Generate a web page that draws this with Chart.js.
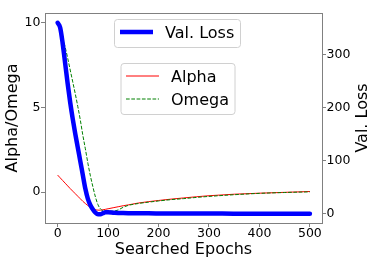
<!DOCTYPE html>
<html>
<head>
<meta charset="utf-8">
<script src="https://cdn.jsdelivr.net/npm/chart.js@4/dist/chart.umd.min.js"></script>
<style>
  body { margin: 0; background: #fff; }
  #wrap { width: 374px; height: 260px; }
</style>
</head>
<body>
<div id="wrap"><canvas id="chart" width="374" height="260"></canvas></div>
<script>

// ================= DATA =================

const epochs = [0, 5, 10, 15, 20, 25, 30, 35, 40, 45, 50, 55, 60, 65, 70, 75, 80, 85, 90, 95,
  100, 110, 120, 130, 140, 160, 180, 200, 225, 250, 275, 300, 350, 400, 450, 500];

const valLoss = [361, 352, 322, 284, 245, 210, 179, 151, 125, 99, 73, 47, 28, 16, 8, 2, -1, -1, 1, 2.5,
  2.5, 2, 1.5, 1.2, 1, 0.8, 0.6, 0.5, 0.4, 0.3, 0.2, 0.2, 0.1, 0.1, 0, 0];

const alpha = [1.0, 0.84, 0.68, 0.52, 0.36, 0.2, 0.05, -0.1, -0.25, -0.4, -0.55, -0.68, -0.8, -0.91, -0.99, -1.04, -1.07, -1.07, -1.05, -1.02,
  -0.99, -0.93, -0.87, -0.81, -0.76, -0.65, -0.57, -0.5, -0.42, -0.35, -0.28, -0.22, -0.13, -0.07, -0.02, 0.03];

const omega = [10, 9.65, 9.15, 8.55, 7.9, 7.2, 6.5, 5.8, 5.05, 4.25, 3.35, 2.55, 1.7, 0.95, 0.3, -0.3, -0.75, -1.0, -1.1, -1.12,
  -1.13, -1.13, -1.06, -0.9, -0.79, -0.68, -0.6, -0.53, -0.45, -0.39, -0.32, -0.26, -0.16, -0.08, -0.03, 0.01];

const xTicks = [0, 100, 200, 300, 400, 500];
const leftTicks = [0, 5, 10];
const rightTicks = [0, 100, 200, 300];

const FONT = "DejaVu Sans";
const SPINE = "#808080";

function points(values) {
  return epochs.map((e, i) => ({ x: e, y: values[i] }));
}


// ================= OVERLAY (top spine, right title, legends) =================

function roundBox(ctx, x, y, w, h, r) {
  ctx.beginPath();
  ctx.moveTo(x + r, y);
  ctx.lineTo(x + w - r, y);
  ctx.arcTo(x + w, y, x + w, y + r, r);
  ctx.lineTo(x + w, y + h - r);
  ctx.arcTo(x + w, y + h, x + w - r, y + h, r);
  ctx.lineTo(x + r, y + h);
  ctx.arcTo(x, y + h, x, y + h - r, r);
  ctx.lineTo(x, y + r);
  ctx.arcTo(x, y, x + r, y, r);
  ctx.closePath();
  ctx.fillStyle = "rgba(255,255,255,0.8)";
  ctx.fill();
  ctx.strokeStyle = "#d0d0d0";
  ctx.lineWidth = 1;
  ctx.stroke();
}

function legendItem(ctx, ds, lineY, textX, baseY) {
  ctx.save();
  ctx.strokeStyle = ds.borderColor;
  ctx.lineWidth = ds.borderWidth;
  ctx.setLineDash(ds.borderDash || []);
  ctx.beginPath();
  ctx.moveTo(textX - 45, lineY);
  ctx.lineTo(textX - 12, lineY);
  ctx.stroke();
  ctx.restore();
  ctx.fillStyle = "#000";
  ctx.font = "16px '" + FONT + "'";
  ctx.textBaseline = "alphabetic";
  ctx.textAlign = "left";
  ctx.fillText(ds.label, textX, baseY);
}

const overlay = {
  id: "overlay",
  afterDraw(chart) {
    const ctx = chart.ctx;
    const area = chart.chartArea;
    const sets = chart.data.datasets;

    ctx.save();
    ctx.strokeStyle = SPINE;
    ctx.lineWidth = 1;
    ctx.beginPath();
    ctx.moveTo(area.left, Math.round(area.top) + 0.5);
    ctx.lineTo(area.right, Math.round(area.top) + 0.5);
    ctx.stroke();

    // right axis title, reading bottom to top like the left one
    ctx.translate(366.5, (area.top + area.bottom) / 2);
    ctx.rotate(-Math.PI / 2);
    ctx.font = "16px '" + FONT + "'";
    ctx.fillStyle = "#000";
    ctx.textAlign = "center";
    ctx.textBaseline = "alphabetic";
    ctx.fillText("Val. Loss", 0, 0);
    ctx.restore();

    ctx.save();
    roundBox(ctx, 114.5, 19.5, 126, 28, 3);
    legendItem(ctx, sets[0], 32, 165, 37.7);
    roundBox(ctx, 121, 63.5, 114, 51, 3);
    legendItem(ctx, sets[2], 76, 171, 81.7);
    legendItem(ctx, sets[1], 99, 171, 105);
    ctx.restore();
  }
};


// ================= CHART =================

function axisTicks() {
  return {
    color: "#000",
    font: { family: FONT, size: 12.5, lineHeight: 1 },
    padding: 0.5
  };
}

function fixedTicks(list) {
  return (scale) => { scale.ticks = list.map((v) => ({ value: v })); };
}

const grid = { drawOnChartArea: false, drawTicks: true, tickLength: 4, color: SPINE };
const border = { display: true, color: SPINE, width: 1 };

new Chart(document.getElementById("chart"), {
  type: "line",
  data: {
    datasets: [
      {
        label: "Val. Loss",
        data: points(valLoss),
        yAxisID: "y1",
        borderColor: "#0000ff",
        borderWidth: 4.5,
        borderCapStyle: "round",
        borderJoinStyle: "round"
      },
      {
        label: "Omega",
        data: points(omega),
        yAxisID: "y",
        borderColor: "#008000",
        borderWidth: 1,
        borderDash: [3.7, 1.6]
      },
      {
        label: "Alpha",
        data: points(alpha),
        yAxisID: "y",
        borderColor: "#ff0000",
        borderWidth: 1
      }
    ]
  },
  options: {
    responsive: false,
    animation: false,
    devicePixelRatio: 1,
    layout: { padding: { top: 13, left: 0, right: 0, bottom: 0 } },
    elements: {
      point: { radius: 0 },
      line: { cubicInterpolationMode: "monotone", fill: false }
    },
    plugins: {
      legend: { display: false },
      tooltip: { enabled: false }
    },
    scales: {
      x: {
        type: "linear",
        min: -25,
        max: 524,
        ticks: axisTicks(),
        afterBuildTicks: fixedTicks(xTicks),
        grid: grid,
        border: border,
        title: {
          display: true,
          text: "Searched Epochs",
          color: "#000",
          font: { family: FONT, size: 16 },
          padding: { top: 0, bottom: 0.4 }
        },
        afterFit: (scale) => { scale.height = 37; }
      },
      y: {
        position: "left",
        min: -1.83,
        max: 10.57,
        ticks: axisTicks(),
        afterBuildTicks: fixedTicks(leftTicks),
        grid: grid,
        border: border,
        title: {
          display: true,
          text: "Alpha/Omega",
          color: "#000",
          font: { family: FONT, size: 16 },
          padding: { top: 3, bottom: 0 }
        },
        afterFit: (scale) => { scale.width = 45; }
      },
      y1: {
        position: "right",
        min: -17.6,
        max: 379.4,
        ticks: axisTicks(),
        afterBuildTicks: fixedTicks(rightTicks),
        grid: grid,
        border: border,
        afterFit: (scale) => { scale.width = 52; }
      }
    }
  },
  plugins: [overlay]
});

</script>
</body>
</html>
